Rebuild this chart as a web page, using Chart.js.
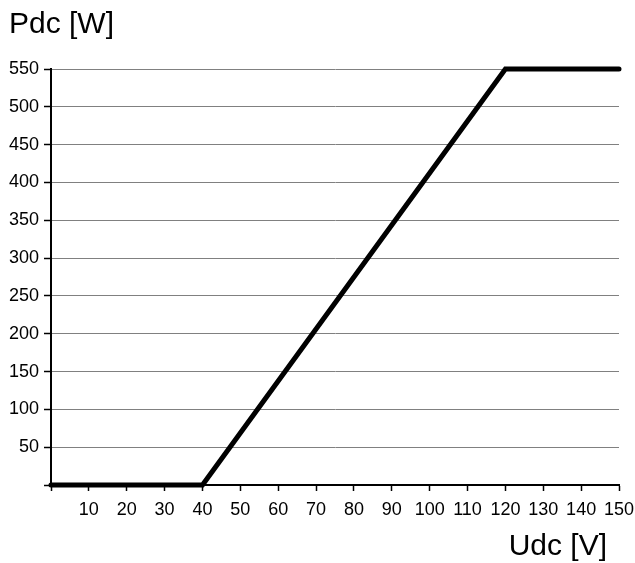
<!DOCTYPE html>
<html>
<head>
<meta charset="utf-8">
<script src="https://cdn.jsdelivr.net/npm/chart.js@4/dist/chart.umd.min.js"></script>
<style>
    body { margin: 0; background: #fff; }
    canvas { display: block; }
</style>
</head>
<body>
<canvas id="pdcChart" width="635" height="563"></canvas>
<script>
// Curve corner points (Udc in V, Pdc in W)
const udcValues = [0, 40, 120, 150];
const pdcValues = [0, 0, 550, 550];

// Axis ranges / ticks
const xMin = 0, xMax = 150, xStep = 10;
const yMin = 0, yMax = 550, yStep = 50;

const yTitle = 'Pdc [W]';
const xTitle = 'Udc [V]';

const fontFamily = "'Liberation Sans', Arial, sans-serif";

// Draw the axis titles outside the plot
const axisTitles = {
    id: 'axisTitles',
    afterDraw(chart) {
        const ctx = chart.ctx;
        ctx.save();
        ctx.fillStyle = '#000';
        ctx.font = '30px ' + fontFamily;
        ctx.textBaseline = 'alphabetic';
        ctx.textAlign = 'left';
        ctx.fillText(yTitle, 9, 33);
        ctx.textAlign = 'right';
        ctx.fillText(xTitle, 607, 555);
        ctx.restore();
    }
};

const ctx = document.getElementById('pdcChart').getContext('2d');

new Chart(ctx, {
    type: 'line',
    data: {
        datasets: [{
            data: udcValues.map((u, i) => ({ x: u, y: pdcValues[i] })),
            borderColor: '#000',
            borderWidth: 5,
            borderCapStyle: 'round',
            borderJoinStyle: 'miter',
            pointRadius: 0,
            tension: 0,
            clip: false
        }]
    },
    options: {
        responsive: false,
        animation: false,
        layout: {
            padding: { left: 0, right: 16, top: 69, bottom: 0 }
        },
        plugins: {
            legend: { display: false },
            title: { display: false },
            tooltip: { enabled: false }
        },
        scales: {
            x: {
                type: 'linear',
                min: xMin,
                max: xMax,
                afterFit: scale => {
                    scale.height = 78;
                    scale.paddingLeft = 0;
                    scale.paddingRight = 0;
                },
                grid: {
                    drawOnChartArea: false,
                    drawTicks: true,
                    tickLength: 6,
                    tickColor: '#000',
                    tickWidth: 1.5
                },
                border: { display: true, color: '#000', width: 2 },
                ticks: {
                    stepSize: xStep,
                    autoSkip: false,
                    maxRotation: 0,
                    padding: 8,
                    color: '#000',
                    font: { family: fontFamily, size: 18 },
                    callback: value => value === 0 ? '' : value
                }
            },
            y: {
                type: 'linear',
                min: yMin,
                max: yMax,
                afterFit: scale => {
                    scale.width = 51;
                    scale.paddingTop = 0;
                    scale.paddingBottom = 0;
                },
                grid: {
                    color: '#808080',
                    lineWidth: 1,
                    drawTicks: true,
                    tickLength: 7,
                    tickColor: '#000',
                    tickWidth: 1.5
                },
                border: { display: true, color: '#000', width: 2 },
                ticks: {
                    stepSize: yStep,
                    padding: 5,
                    color: '#000',
                    font: { family: fontFamily, size: 18 },
                    callback: value => value === 0 ? '' : value
                }
            }
        }
    },
    plugins: [axisTitles]
});
</script>
</body>
</html>
